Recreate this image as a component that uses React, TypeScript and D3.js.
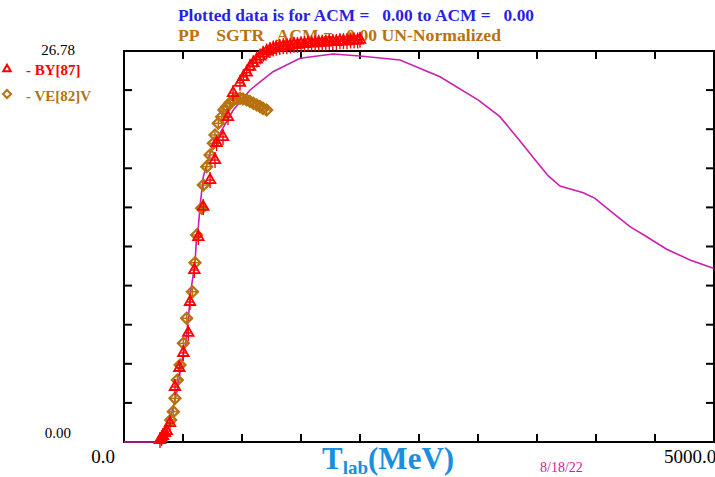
import React from 'react';
import * as d3 from 'd3';

// calculated total cross section (magenta curve), T_lab in MeV vs sigma in mb
const curveT = [0, 263, 319, 375, 404, 432, 460, 481, 523, 545, 565, 602, 616, 630, 644, 672, 729, 814, 926, 1068, 1263, 1492, 1771, 2000, 2339, 2678, 3003, 3186, 3356, 3497, 3596, 3695, 3892, 3992, 4147, 4288, 4430, 4599, 4797, 5000];
const curveS = [0, 0, 0.14, 1.05, 1.99, 2.88, 3.9, 5.16, 6.78, 8.42, 10.29, 12.28, 14.18, 14.75, 16.12, 18.17, 19.79, 21.16, 22.74, 24.11, 25.36, 26.28, 26.57, 26.44, 26.16, 25.02, 23.42, 22.28, 20.62, 19.2, 18.22, 17.53, 17.07, 16.69, 15.66, 14.75, 14.06, 13.2, 12.47, 11.88];

// BY[87] data (red triangles)
const byT = [305, 319, 330, 347, 362, 390, 432, 469, 503, 545, 559, 596, 630, 672, 729, 771, 785, 839, 881, 924, 983, 1012, 1040, 1068, 1096, 1125, 1153, 1180, 1209, 1237, 1265, 1290, 1320, 1350, 1380, 1410, 1440, 1470, 1500, 1530, 1560, 1590, 1620, 1650, 1680, 1710, 1740, 1770, 1800, 1830, 1860, 1890, 1920, 1950, 1980, 2000];
const byS = [0.14, 0.27, 0.41, 0.62, 0.75, 1.3, 3.77, 5.07, 6.1, 7.47, 9.59, 11.78, 14.04, 16.1, 17.94, 19.31, 20.48, 20.89, 22.26, 23.9, 24.6, 25.0, 25.3, 25.7, 25.95, 26.2, 26.4, 26.6, 26.75, 26.85, 26.95, 27.0, 27.05, 27.1, 27.1, 27.15, 27.2, 27.2, 27.25, 27.25, 27.3, 27.3, 27.3, 27.35, 27.35, 27.35, 27.4, 27.4, 27.4, 27.45, 27.45, 27.45, 27.5, 27.5, 27.5, 27.55];

// VE[82]V data (brown diamonds)
const veT = [396, 418, 432, 452, 475, 503, 531, 580, 602, 616, 658, 672, 701, 729, 757, 771, 799, 828, 847, 870, 898, 926, 955, 983, 1008, 1040, 1068, 1096, 1125, 1153, 1178, 1209];
const veS = [1.51, 2.08, 2.99, 4.25, 5.27, 6.76, 8.47, 10.29, 12.28, 14.18, 16.01, 17.6, 18.86, 19.66, 20.46, 21.03, 21.83, 22.28, 22.74, 22.97, 23.22, 23.42, 23.49, 23.54, 23.49, 23.42, 23.32, 23.2, 23.08, 22.97, 22.85, 22.74];

const xMin = 0;
const xMax = 5000;
const yMin = 0;
const yMax = 26.78;

const RED = '#ff0000';
const BROWN = '#b8720f';
const MAGENTA = '#cc1fb0';
const SERIF = '"Liberation Serif", "DejaVu Serif", serif';

export default function App() {
  const W = 715;
  const H = 477;
  const left = 124, right = 714, top = 51, bottom = 442;

  const x = d3.scaleLinear().domain([xMin, xMax]).range([left, right]);
  const y = d3.scaleLinear().domain([yMin, yMax]).range([bottom, top]);

  const line = d3.line<number>()
    .x((_, i) => x(curveT[i]))
    .y((d) => y(d));

  const xTicks = d3.range(0, 11).map((i) => xMin + (i * (xMax - xMin)) / 10);
  const yTicks = d3.range(0, 11).map((i) => yMin + (i * (yMax - yMin)) / 10);

  const tri = d3.symbol().type(d3.symbolTriangle).size(48)() as string;
  const triSmall = d3.symbol().type(d3.symbolTriangle).size(24)() as string;
  const dia = 'M0,-5.5L5.5,0L0,5.5L-5.5,0Z';
  const diaSmall = 'M0,-4L4,0L0,4L-4,0Z';

  return (
    <svg width={W} height={H} style={{ position: 'absolute', left: 0, top: 0, background: '#fff' }}>
      <rect x={0} y={0} width={W} height={H} fill="#fff" />

      {/* frame */}
      <rect x={left} y={top} width={right - left} height={bottom - top} fill="none" stroke="#000" strokeWidth={2} />
      {xTicks.slice(1, -1).map((t) => (
        <g key={'xt' + t}>
          <line x1={x(t)} x2={x(t)} y1={bottom} y2={bottom - 8} stroke="#000" strokeWidth={2} />
          <line x1={x(t)} x2={x(t)} y1={top} y2={top + 8} stroke="#000" strokeWidth={2} />
        </g>
      ))}
      {yTicks.slice(1, -1).map((t) => (
        <g key={'yt' + t}>
          <line x1={left} x2={left + 8} y1={y(t)} y2={y(t)} stroke="#000" strokeWidth={2} />
          <line x1={right} x2={right - 8} y1={y(t)} y2={y(t)} stroke="#000" strokeWidth={2} />
        </g>
      ))}

      {/* theory curve */}
      <path d={line(curveS) || ''} fill="none" stroke={MAGENTA} strokeWidth={1.6} />

      {/* titles */}
      <text x={178} y={21} fill="#2a1fe6" fontFamily={SERIF} fontWeight="bold" fontSize={16} textLength={356} lengthAdjust="spacingAndGlyphs" style={{ whiteSpace: 'pre' }}>
        {'Plotted data is for ACM =   0.00 to ACM =   0.00'}
      </text>
      <text x={178} y={41} fill={BROWN} fontFamily={SERIF} fontWeight="bold" fontSize={16} textLength={323} lengthAdjust="spacingAndGlyphs" style={{ whiteSpace: 'pre' }}>
        {'PP    SGTR   ACM =   0.00 UN-Normalized'}
      </text>

      {/* VE[82]V */}
      {veT.map((t, i) => (
        <g key={'ve' + i} transform={`translate(${x(t)},${y(veS[i])})`}>
          <line x1={0} x2={0} y1={-6} y2={6} stroke={BROWN} strokeWidth={1.5} />
          <line x1={-6} x2={6} y1={0} y2={0} stroke={BROWN} strokeWidth={1.5} />
          <path d={dia} fill="none" stroke={BROWN} strokeWidth={2.2} />
        </g>
      ))}

      {/* BY[87] */}
      {byT.map((t, i) => (
        <g key={'by' + i} transform={`translate(${x(t)},${y(byS[i])})`}>
          <line x1={0} x2={0} y1={-8} y2={8} stroke={RED} strokeWidth={1.4} />
          <line x1={-3} x2={3} y1={0} y2={0} stroke={RED} strokeWidth={1.4} />
          <path d={tri} fill="none" stroke={RED} strokeWidth={1.8} />
        </g>
      ))}

      {/* axis labels */}
      <text x={75} y={55} textAnchor="end" fontFamily={SERIF} fontSize={15} fill="#000">26.78</text>
      <text x={71} y={438} textAnchor="end" fontFamily={SERIF} fontSize={15} fill="#000">0.00</text>
      <text x={115} y={463} textAnchor="end" fontFamily={SERIF} fontSize={19} fill="#000">0.0</text>
      <text x={664} y={463} fontFamily={SERIF} fontSize={19} fill="#000">5000.0</text>

      <text x={322} y={469} fontFamily={SERIF} fontWeight="bold" fontSize={31} fill="#1a8fe0">
        T<tspan fontSize={19} dy={5}>lab</tspan><tspan dy={-5}>(MeV)</tspan>
      </text>
      <text x={540} y={472} fontFamily={SERIF} fontSize={14} fill="#d01aa0">8/18/22</text>

      {/* legend */}
      <path d={triSmall} transform="translate(7,69)" fill="none" stroke={RED} strokeWidth={2} />
      <text x={26} y={75} fontFamily={SERIF} fontWeight="bold" fontSize={15} fill={RED}>- BY[87]</text>
      <path d={diaSmall} transform="translate(7,94)" fill="none" stroke={BROWN} strokeWidth={2} />
      <text x={26} y={101} fontFamily={SERIF} fontWeight="bold" fontSize={15} fill={BROWN}>- VE[82]V</text>
    </svg>
  );
}
